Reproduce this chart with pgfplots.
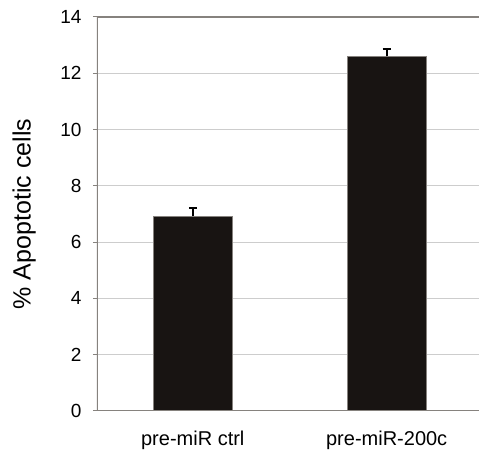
\documentclass[border=0pt]{standalone}
\usepackage{fontspec}
\setmainfont{Liberation Sans}
\usepackage{pgfplots}
\pgfplotsset{compat=1.18}
\definecolor{barfill}{RGB}{24,20,18}
\definecolor{axisgray}{RGB}{134,130,126}
\definecolor{gridgray}{RGB}{205,205,205}

\begin{document}
\begin{tikzpicture}
\useasboundingbox (-97bp,-47bp) rectangle (382bp,411bp);
\begin{axis}[
  scale only axis, width=382bp, height=394bp,
  xmin=-0.494, xmax=1.476, ymin=0, ymax=14,
  axis line style={draw=none},
  ytick={0,2,...,14},
  ymajorgrids, grid style={gridgray, line width=1bp},
  tick align=outside, major tick length=4bp,
  ytick style={axisgray, line width=1bp},
  xtick={0,1}, xticklabels={pre-miR ctrl, pre-miR-200c},
  xtick style={draw=none},
  /pgf/number format/assume math mode=true,
  yticklabel style={font=\fontsize{19bp}{22bp}\selectfont, anchor=east, xshift=-8bp},
  xticklabel style={font=\fontsize{20bp}{24bp}\selectfont, anchor=north, yshift=-12bp},
  ylabel={\% Apoptotic cells},
  every axis y label/.style={at={(axis description cs:-0.191,0.5)}, rotate=90, anchor=center, font=\fontsize{25bp}{30bp}\selectfont},
  ybar, bar width=79bp, bar shift=0pt,
]
\addplot[fill=barfill, draw=axisgray, line width=0.6bp,
  error bars/.cd, y dir=plus, y explicit,
  error bar style={black, line width=2bp},
  error mark options={black, line width=2bp, mark size=4bp, rotate=90}]
  coordinates {(0,6.92) +- (0,0.30) (1,12.60) +- (0,0.25)};
\draw[axisgray, line width=2bp] (rel axis cs:1,1) -- (rel axis cs:0,1) -- (rel axis cs:0,0) -- (rel axis cs:1,0);
\draw[axisgray, line width=1bp] (axis cs:0.5,0) -- ++(0,-4bp);
\end{axis}
\end{tikzpicture}
\end{document}
